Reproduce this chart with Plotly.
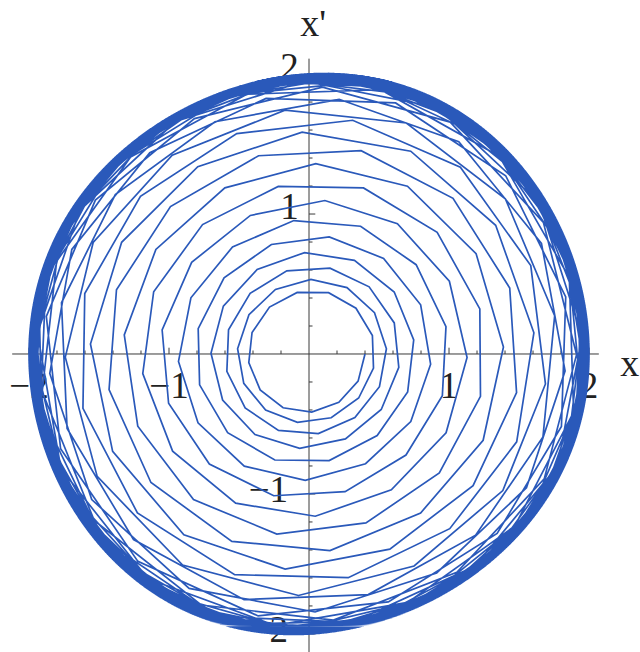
import numpy as np
import plotly.graph_objects as go

# Van der Pol oscillator  x'' - mu (1 - x^2) x' + x = 0, phase plane (x, x')
mu = 0.055
x_start = 0.40
v_start = 0.0
sample_step = 0.5
substeps = 8
t_end = 1200.0

# axis annotation
x_tick_labels = [-2, -1, 1, 2]
y_tick_labels = [-2, -1, 1, 2]
minor_step = 0.2
x_axis_title = "x"
y_axis_title = "x'"


def rhs(s):
    x, v = s
    return np.array([v, mu * (1.0 - x * x) * v - x])


def rk4(s, h):
    k1 = rhs(s)
    k2 = rhs(s + 0.5 * h * k1)
    k3 = rhs(s + 0.5 * h * k2)
    k4 = rhs(s + h * k3)
    return s + h / 6.0 * (k1 + 2 * k2 + 2 * k3 + k4)


state = np.array([x_start, v_start])
xs, vs = [state[0]], [state[1]]
h = sample_step / substeps
for _ in range(int(t_end / sample_step)):
    for _ in range(substeps):
        state = rk4(state, h)
    xs.append(state[0])
    vs.append(state[1])

axis_col = "#3a3a3a"
curve_col = "#2a59ba"
serif = "Liberation Serif, Times New Roman, serif"


def y_label_offset(v):
    if v > 0:
        return 0.03
    return 0.01


fig = go.Figure()

# tick labels first so the trajectory is drawn over them
fig.add_trace(go.Scatter(
    x=[v for v in x_tick_labels], y=[-0.245] * len(x_tick_labels),
    mode="text", text=[str(v).replace("-", "\u2212") for v in x_tick_labels],
    textfont=dict(family=serif, size=37, color="#222"),
    hoverinfo="skip", showlegend=False))
fig.add_trace(go.Scatter(
    x=[-0.14 - (0.15 if v < 0 else 0) for v in y_tick_labels],
    y=[v + y_label_offset(v) for v in y_tick_labels],
    mode="text", text=[str(v).replace("-", "\u2212") for v in y_tick_labels],
    textfont=dict(family=serif, size=37, color="#222"),
    hoverinfo="skip", showlegend=False))

# axes through the origin
fig.add_trace(go.Scatter(x=[-2.12, 2.07], y=[0, 0], mode="lines",
                         line=dict(color=axis_col, width=1),
                         hoverinfo="skip", showlegend=False))
fig.add_trace(go.Scatter(x=[0, 0], y=[-2.14, 2.11], mode="lines",
                         line=dict(color=axis_col, width=1),
                         hoverinfo="skip", showlegend=False))

# tick marks
tx, ty = [], []
n_minor = int(round(2 / minor_step))
for i in range(-n_minor, n_minor + 1):
    if i == 0:
        continue
    val = i * minor_step
    major = abs(val - round(val)) < 1e-9
    ln = 0.045 if major else 0.025
    tx += [val, val, None]
    ty += [0, ln, None]
    tx += [0, ln, None]
    ty += [val, val, None]
fig.add_trace(go.Scatter(x=tx, y=ty, mode="lines",
                         line=dict(color=axis_col, width=1),
                         hoverinfo="skip", showlegend=False))

# trajectory
fig.add_trace(go.Scatter(x=xs, y=vs, mode="lines",
                         line=dict(color=curve_col, width=1.7),
                         hoverinfo="skip", showlegend=False))

# axis titles
fig.add_trace(go.Scatter(
    x=[2.29, 0.03], y=[-0.09, 2.34], mode="text",
    text=[x_axis_title, y_axis_title],
    textfont=dict(family=serif, size=38, color="#222"),
    hoverinfo="skip", showlegend=False))

fig.update_layout(
    width=640, height=652,
    margin=dict(l=0, r=0, t=0, b=0),
    paper_bgcolor="white", plot_bgcolor="white",
    xaxis=dict(range=[-2.207, 2.364], visible=False, fixedrange=True),
    yaxis=dict(range=[-2.129, 2.529], visible=False, fixedrange=True),
)

fig.write_html("out.html")
